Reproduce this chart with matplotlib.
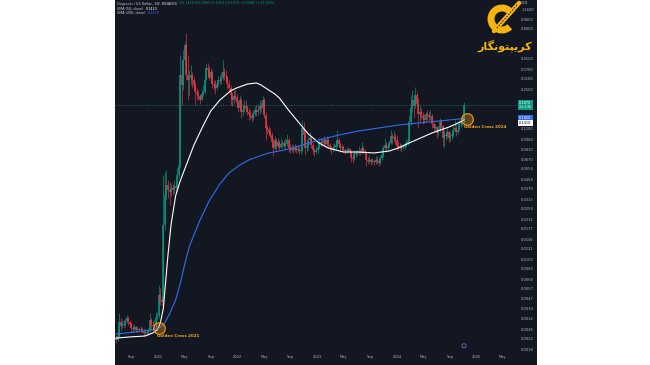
import numpy as np
import pandas as pd
import matplotlib
matplotlib.use('Agg')
import matplotlib.pyplot as plt
from matplotlib.patches import Rectangle, Arc
from matplotlib.lines import Line2D

# DOGE / USD, weekly candles, first week 2020-06-22
first_open = 0.00222
close = [
    0.00214, 0.00231, 0.00302, 0.00280, 0.00290, 0.00285, 0.00307, 0.00325, 0.00302, 0.00290,
    0.00269, 0.00264, 0.00274, 0.00259, 0.00264, 0.00259, 0.00264, 0.00254, 0.00245, 0.00249,
    0.00245, 0.00254, 0.00313, 0.00285, 0.00280, 0.00290, 0.00325, 0.00338, 0.00504, 0.00459,
    0.00441, 0.0191, 0.0338, 0.0409, 0.0372, 0.0358, 0.0386, 0.0372, 0.0401, 0.0386,
    0.0495, 0.0598, 0.332, 0.274, 0.441, 0.587, 0.332, 0.302, 0.313, 0.332,
    0.302, 0.274, 0.240, 0.231, 0.222, 0.206, 0.231, 0.240, 0.302, 0.379,
    0.365, 0.313, 0.351, 0.279, 0.274, 0.259, 0.279, 0.302, 0.296, 0.313,
    0.351, 0.325, 0.319, 0.279, 0.259, 0.227, 0.206, 0.222, 0.218, 0.195,
    0.177, 0.206, 0.164, 0.170, 0.184, 0.177, 0.164, 0.158, 0.152, 0.146,
    0.158, 0.170, 0.164, 0.170, 0.184, 0.177, 0.206, 0.155, 0.121, 0.1165,
    0.1121, 0.1059, 0.0927, 0.0827, 0.0963, 0.0859, 0.0927, 0.0843, 0.0892, 0.0909,
    0.0859, 0.0892, 0.0963, 0.0827, 0.0796, 0.0827, 0.0796, 0.0827, 0.0796, 0.0811,
    0.0781, 0.0796, 0.121, 0.1059, 0.0827, 0.0859, 0.0963, 0.1000, 0.0875, 0.0796,
    0.0766, 0.0796, 0.0827, 0.0909, 0.0927, 0.0909, 0.0963, 0.0892, 0.0963, 0.0875,
    0.0827, 0.0796, 0.0827, 0.0843, 0.0875, 0.0963, 0.0892, 0.0827, 0.0843, 0.0796,
    0.0781, 0.0796, 0.0811, 0.0766, 0.0684, 0.0671, 0.0752, 0.0738, 0.0752, 0.0766,
    0.0752, 0.0827, 0.0781, 0.0766, 0.0658, 0.0646, 0.0658, 0.0634, 0.0646, 0.0634,
    0.0658, 0.0646, 0.0622, 0.0684, 0.0724, 0.0827, 0.0875, 0.0827, 0.0859, 0.0909,
    0.1039, 0.1000, 0.1019, 0.0963, 0.0859, 0.0843, 0.0851, 0.0827, 0.0843, 0.0875,
    0.0909, 0.0945, 0.136, 0.177, 0.206, 0.184, 0.227, 0.191, 0.158, 0.164,
    0.152, 0.146, 0.141, 0.158, 0.155, 0.149, 0.152, 0.131, 0.121, 0.123,
    0.1100, 0.1165, 0.136, 0.126, 0.1000, 0.1059, 0.1039, 0.1121, 0.1000, 0.1039,
    0.1059, 0.1165, 0.121, 0.1121, 0.1165, 0.131, 0.136, 0.141, 0.187,
]
high = [
    0.00235, 0.00245, 0.00358, 0.00325, 0.00313, 0.00313, 0.00325, 0.00345, 0.00338, 0.00313,
    0.00302, 0.00285, 0.00290, 0.00280, 0.00280, 0.00274, 0.00280, 0.00274, 0.00264, 0.00269,
    0.00259, 0.00269, 0.00358, 0.00325, 0.00307, 0.00313, 0.00365, 0.00365, 0.00610, 0.00576,
    0.00504, 0.0495, 0.0524, 0.0544, 0.0450, 0.0433, 0.0425, 0.0417, 0.0450, 0.0433,
    0.0565, 0.0658, 0.485, 0.441, 0.534, 0.622, 0.738, 0.485, 0.365, 0.401,
    0.351, 0.325, 0.290, 0.259, 0.249, 0.231, 0.249, 0.274, 0.325, 0.417,
    0.417, 0.394, 0.379, 0.365, 0.302, 0.302, 0.302, 0.325, 0.332, 0.351,
    0.441, 0.379, 0.365, 0.325, 0.302, 0.274, 0.240, 0.249, 0.249, 0.231,
    0.206, 0.227, 0.214, 0.191, 0.206, 0.206, 0.187, 0.177, 0.170, 0.164,
    0.170, 0.184, 0.187, 0.191, 0.206, 0.198, 0.222, 0.214, 0.164, 0.128,
    0.126, 0.121, 0.1121, 0.1000, 0.1039, 0.1000, 0.1000, 0.0963, 0.1000, 0.0963,
    0.0963, 0.1000, 0.1079, 0.1000, 0.0892, 0.0892, 0.0875, 0.0892, 0.0875, 0.0875,
    0.0859, 0.0843, 0.141, 0.136, 0.1165, 0.0927, 0.1039, 0.1121, 0.1039, 0.0909,
    0.0827, 0.0859, 0.0875, 0.0963, 0.1000, 0.1000, 0.1039, 0.1000, 0.1039, 0.1000,
    0.0909, 0.0859, 0.0892, 0.0909, 0.0963, 0.1165, 0.1000, 0.0927, 0.0892, 0.0875,
    0.0827, 0.0827, 0.0843, 0.0827, 0.0796, 0.0724, 0.0796, 0.0796, 0.0796, 0.0859,
    0.0811, 0.0927, 0.0859, 0.0811, 0.0781, 0.0697, 0.0724, 0.0684, 0.0684, 0.0671,
    0.0710, 0.0710, 0.0671, 0.0724, 0.0796, 0.0875, 0.1000, 0.0927, 0.0927, 0.0963,
    0.1165, 0.1100, 0.1143, 0.1079, 0.1059, 0.0945, 0.0909, 0.0892, 0.0892, 0.0927,
    0.0981, 0.1019, 0.155, 0.227, 0.249, 0.222, 0.264, 0.240, 0.214, 0.187,
    0.177, 0.164, 0.158, 0.164, 0.170, 0.164, 0.170, 0.158, 0.136, 0.131,
    0.126, 0.126, 0.146, 0.141, 0.128, 0.1165, 0.1121, 0.121, 0.1165, 0.1121,
    0.1121, 0.126, 0.141, 0.128, 0.123, 0.141, 0.146, 0.155, 0.198,
]
low = [
    0.00202, 0.00210, 0.00227, 0.00259, 0.00269, 0.00269, 0.00274, 0.00296, 0.00285, 0.00274,
    0.00249, 0.00245, 0.00254, 0.00245, 0.00249, 0.00249, 0.00249, 0.00245, 0.00231, 0.00235,
    0.00231, 0.00235, 0.00240, 0.00259, 0.00259, 0.00269, 0.00259, 0.00313, 0.00325, 0.00417,
    0.00409, 0.00417, 0.0174, 0.0307, 0.0319, 0.0280, 0.0332, 0.0338, 0.0351, 0.0351,
    0.0372, 0.0467, 0.0565, 0.187, 0.249, 0.425, 0.302, 0.206, 0.227, 0.274,
    0.259, 0.249, 0.187, 0.210, 0.206, 0.191, 0.206, 0.222, 0.231, 0.302,
    0.325, 0.302, 0.290, 0.259, 0.249, 0.231, 0.249, 0.269, 0.279, 0.279,
    0.302, 0.302, 0.290, 0.259, 0.240, 0.187, 0.184, 0.191, 0.206, 0.184,
    0.164, 0.170, 0.146, 0.152, 0.164, 0.164, 0.155, 0.141, 0.144, 0.136,
    0.141, 0.152, 0.152, 0.155, 0.158, 0.164, 0.164, 0.146, 0.0963, 0.1079,
    0.1039, 0.1000, 0.0859, 0.0710, 0.0796, 0.0796, 0.0827, 0.0796, 0.0827, 0.0827,
    0.0827, 0.0827, 0.0859, 0.0766, 0.0752, 0.0766, 0.0752, 0.0766, 0.0752, 0.0766,
    0.0738, 0.0738, 0.0766, 0.0963, 0.0724, 0.0766, 0.0796, 0.0892, 0.0827, 0.0738,
    0.0710, 0.0738, 0.0752, 0.0811, 0.0859, 0.0859, 0.0859, 0.0843, 0.0859, 0.0827,
    0.0781, 0.0738, 0.0766, 0.0781, 0.0796, 0.0843, 0.0859, 0.0766, 0.0781, 0.0766,
    0.0738, 0.0752, 0.0766, 0.0738, 0.0634, 0.0622, 0.0658, 0.0697, 0.0710, 0.0724,
    0.0724, 0.0738, 0.0752, 0.0738, 0.0587, 0.0610, 0.0622, 0.0598, 0.0610, 0.0598,
    0.0610, 0.0610, 0.0587, 0.0610, 0.0658, 0.0697, 0.0796, 0.0766, 0.0796, 0.0827,
    0.0892, 0.0892, 0.0927, 0.0892, 0.0796, 0.0796, 0.0796, 0.0766, 0.0796, 0.0811,
    0.0843, 0.0875, 0.0927, 0.128, 0.164, 0.146, 0.177, 0.184, 0.121, 0.136,
    0.144, 0.131, 0.133, 0.136, 0.141, 0.138, 0.141, 0.121, 0.1143, 0.1165,
    0.1000, 0.1039, 0.1121, 0.121, 0.0859, 0.0827, 0.0963, 0.1000, 0.0927, 0.0945,
    0.0981, 0.1019, 0.1121, 0.1039, 0.1079, 0.1143, 0.123, 0.126, 0.131,
]

# moving averages (week number -> value)
sma50_week = [0, 9, 19, 24, 27, 29, 31, 32, 34, 36, 37, 39, 42, 44, 46, 51, 57, 62, 68, 75, 79, 86,
              92, 95, 98, 104, 107, 113, 120, 126, 133, 139, 149, 159, 169, 179, 185, 192, 198,
              207, 218, 223, 228]
sma50 = [0.00222, 0.00227, 0.00231, 0.00245, 0.00259, 0.00296, 0.00394, 0.00555, 0.0108, 0.0191,
         0.0231, 0.0332, 0.0441, 0.0514, 0.0598, 0.0875, 0.126, 0.167, 0.206, 0.245, 0.259, 0.279,
         0.285, 0.274, 0.259, 0.231, 0.214, 0.170, 0.133, 0.1079, 0.0909, 0.0827, 0.0766, 0.0766,
         0.0752, 0.0781, 0.0827, 0.0909, 0.0981, 0.1100, 0.123, 0.131, 0.141]
sma200_week = [0, 7, 18, 27, 31, 35, 39, 42, 45, 48, 55, 61, 68, 74, 81, 87, 94, 100, 107, 113,
               120, 133, 146, 159, 172, 185, 198, 211, 228]
sma200 = [0.00240, 0.00245, 0.00254, 0.00264, 0.00285, 0.00351, 0.00459, 0.00622, 0.00910, 0.0127,
          0.0210, 0.0302, 0.0417, 0.0514, 0.0598, 0.0658, 0.0710, 0.0752, 0.0781, 0.0811,
          0.0859, 0.0963, 0.1059, 0.1143, 0.121, 0.128, 0.133, 0.138, 0.145]

cross_dates = ['2021-01-07', '2024-11-18']
cross_price = [0.00269, 0.144]
cross_text = ['Golden Cross 2021', 'Golden Cross 2024']

# labels under the logo are hidden in the original
price_ticks = [1.16, 0.96, 0.80, 0.45, 0.37, 0.31, 0.25, 0.12, 0.098, 0.081, 0.067,
               0.0555, 0.0458, 0.0379, 0.0313, 0.0259, 0.0214, 0.0177, 0.0146, 0.0121, 0.0100,
               0.0083, 0.0068, 0.0057, 0.0047, 0.0039, 0.0032, 0.0026, 0.0022, 0.0018]
time_ticks = ['2020-09-01', '2021-01-01', '2021-05-01', '2021-09-01', '2022-01-01', '2022-05-01',
              '2022-09-01', '2023-01-01', '2023-05-01', '2023-09-01', '2024-01-01', '2024-05-01',
              '2024-09-01', '2025-01-01', '2025-05-01']
time_labels = ['Sep', '2021', 'May', 'Sep', '2022', 'May', 'Sep', '2023', 'May', 'Sep', '2024',
               'May', 'Sep', '2025', 'May']

title = 'Dogecoin / US Dollar, 1W, BINANCE'
logo_text = '\ufead\ufe8e\ufb95\ufee7\ufeee\ufe98\ufb59\ufbfe\ufeae\ufb90'  # کریپتونگار

BG = '#131722'
UP = '#089981'
DN = '#f23645'
BLUE = '#2f6df0'
GOLD = '#f6b40e'
TXT = '#b2b5be'

dates = pd.date_range('2020-06-22', periods=len(close), freq='7D')
c = np.array(close)
o = np.r_[first_open, c[:-1]]
col = np.where(c >= o, UP, DN)

fig = plt.figure(figsize=(6.5, 3.65), dpi=100)
fig.patch.set_facecolor('white')
fig.patches.append(Rectangle((115 / 650, 0), 422 / 650, 1, transform=fig.transFigure,
                             facecolor=BG, edgecolor='none', zorder=-1))
ax = fig.add_axes([115 / 650, 15 / 365, 402 / 650, 350 / 365])
ax.set_facecolor(BG)
for s in ax.spines.values():
    s.set_visible(False)

# candles
ax.vlines(dates, low, high, colors=col, lw=0.45)
ax.vlines(dates, np.minimum(o, c), np.maximum(o, c), colors=col, lw=1.1)

# SMA 50 / SMA 200
ax.plot(dates[sma50_week], sma50, color='white', lw=0.8, zorder=3)
ax.plot(dates[sma200_week], sma200, color=BLUE, lw=0.8, zorder=3)

# current price line
ax.axhline(c[-1], color=UP, lw=0.5, ls=(0, (1, 1.5)), zorder=2)

# golden cross marks
cd = pd.to_datetime(cross_dates)
ax.scatter(cd, cross_price, s=70, facecolor=(0.96, 0.58, 0.1, 0.35), edgecolor='#f59a1c',
           lw=0.8, zorder=5)
for d, p, t in zip(cd, cross_price, cross_text):
    ax.annotate(t, (d, p), xytext=(-2, -6), textcoords='offset points', color='#f5a623',
                fontsize=2.9, fontweight='bold', ha='left', va='center', zorder=6)

# small event icon under the last candle
ax.scatter([dates[-1]], [0.012], transform=ax.get_xaxis_transform(), s=9, facecolor='none',
           edgecolor='#8e5cc7', lw=0.6, zorder=5)

ax.set_yscale('log')
ax.set_ylim(0.00177, 1.382)
ax.set_xlim(pd.Timestamp('2020-06-17'), pd.Timestamp('2025-07-05'))

ax.yaxis.tick_right()
ax.set_yticks(price_ticks)
ax.set_yticklabels([f'{v:.4f}' for v in price_ticks])
ax.yaxis.set_minor_locator(matplotlib.ticker.NullLocator())
ax.tick_params(axis='y', length=0, pad=3, labelsize=2.6, labelcolor=TXT)
ax.set_xticks(pd.to_datetime(time_ticks))
ax.set_xticklabels(time_labels)
ax.tick_params(axis='x', length=0, pad=3.5, labelsize=2.6, labelcolor=TXT)

# price scale labels
ax.annotate(f'{c[-1]:.4f}\n2d 13h', xy=(1, c[-1]), xycoords=('axes fraction', 'data'),
            xytext=(1.5, 0), textcoords='offset points', ha='left', va='center', fontsize=2.5,
            color='white', linespacing=1.1, bbox=dict(boxstyle='square,pad=0.35', fc=UP, ec='none'))
ax.annotate(f'{sma200[-1]:.4f}', xy=(1, sma200[-1]), xycoords=('axes fraction', 'data'),
            xytext=(1.5, 0), textcoords='offset points', ha='left', va='center', fontsize=2.5,
            color='white', bbox=dict(boxstyle='square,pad=0.35', fc=BLUE, ec='none'))
ax.annotate(f'{sma50[-1]:.4f}', xy=(1, sma200[-1]), xycoords=('axes fraction', 'data'),
            xytext=(1.5, -3.2), textcoords='offset points', ha='left', va='center', fontsize=2.5,
            color='black', bbox=dict(boxstyle='square,pad=0.35', fc='white', ec='none'))
fig.text(521 / 650, 1 - 3 / 365, 'USD', fontsize=2.4, color=TXT, va='center')

# legend lines (top left)
t1 = fig.text(117 / 650, 1 - 3.5 / 365, title, fontsize=2.4, color='#d1d4dc', va='center')
ax.annotate(f'  O{o[-1]:.4f} H{high[-1]:.4f} L{low[-1]:.4f} C{c[-1]:.4f} '
            f'+{c[-1] - o[-1]:.4f} (+{(c[-1] / o[-1] - 1) * 100:.2f}%)',
            xy=(1, 0.5), xycoords=t1, va='center', fontsize=2.4, color=UP)
t2 = fig.text(117 / 650, 1 - 8.5 / 365, 'SMA (50, close)  ', fontsize=2.4, color='#d1d4dc', va='center')
ax.annotate(f'{sma50[-1]:.4f}', xy=(1, 0.5), xycoords=t2, va='center', fontsize=2.4, color='white')
t3 = fig.text(117 / 650, 1 - 13.5 / 365, 'SMA (200, close)  ', fontsize=2.4, color='#d1d4dc', va='center')
ax.annotate(f'{sma200[-1]:.4f}', xy=(1, 0.5), xycoords=t3, va='center', fontsize=2.4, color=BLUE)

# logo
fig.patches.append(Arc((5.02, 3.46), 0.22, 0.22, theta1=45, theta2=315,
                       transform=fig.dpi_scale_trans, color=GOLD, lw=5))
fig.add_artist(Line2D([5.19, 4.94], [3.62, 3.34], transform=fig.dpi_scale_trans, color=GOLD,
                      lw=3.2, solid_capstyle='round'))
fig.add_artist(Line2D([5.17, 4.96], [3.60, 3.36], transform=fig.dpi_scale_trans, color=BG,
                      lw=0.7, ls=(0, (1.5, 1.5))))
fig.text(505 / 650, 1 - 46 / 365, logo_text, ha='center', va='center', fontsize=8,
         color=GOLD, fontweight='bold', family=['DejaVu Sans'])

fig.savefig('out.png', dpi=100, facecolor='white')
